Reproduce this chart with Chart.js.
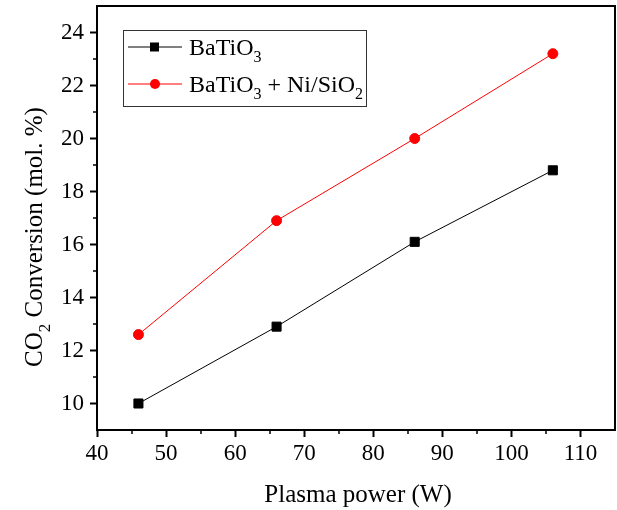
<!DOCTYPE html>
<html><head><meta charset="utf-8">
<script src="https://cdn.jsdelivr.net/npm/chart.js@4/dist/chart.umd.min.js"></script>
<style>html,body{margin:0;padding:0;background:#fff}</style>
</head><body>
<canvas id="c" width="617" height="510" style="width:617px;height:510px;display:block"></canvas>
<script>
const power = [46, 66, 86, 106];
const batio3 = [10.0, 12.9, 16.1, 18.8];
const batio3NiSiO2 = [12.6, 16.9, 20.0, 23.2];
const xTicks = [40, 50, 60, 70, 80, 90, 100, 110];
const yTicks = [10, 12, 14, 16, 18, 20, 22, 24];
const xMinor = [45, 55, 65, 75, 85, 95, 105];
const yMinor = [11, 13, 15, 17, 19, 21, 23];
const legendItems = [
  { parts: [['BaTiO', false], ['3', true]], color: '#000000', style: 'rect' },
  { parts: [['BaTiO', false], ['3', true], [' + Ni/SiO', false], ['2', true]], color: '#ff0000', style: 'circle' }
];
const xTitle = 'Plasma power (W)';
const yTitleParts = [['CO', false], ['2', true], [' Conversion (mol. %)', false]];

const FONT = '"Liberation Serif", "Times New Roman", serif';

function drawParts(ctx, parts, x, y, size) {
  let cx = x;
  for (const [t, sub] of parts) {
    const fs = sub ? Math.round(size * 0.68) : size;
    ctx.font = fs + 'px ' + FONT;
    ctx.fillText(t, cx, sub ? y + size * 0.3 : y);
    cx += ctx.measureText(t).width;
  }
  return cx - x;
}

const decor = {
  id: 'decor',
  afterDraw(chart) {
    const ctx = chart.ctx;
    const a = chart.chartArea;
    const xs = chart.scales.x, ys = chart.scales.y;
    ctx.save();
    ctx.strokeStyle = '#000';
    ctx.lineWidth = 2;
    ctx.beginPath();
    ctx.moveTo(a.left, a.top); ctx.lineTo(a.right, a.top); ctx.lineTo(a.right, a.bottom);
    ctx.stroke();
    ctx.lineWidth = 1.5;
    ctx.beginPath();
    for (const v of xMinor) {
      const px = Math.round(xs.getPixelForValue(v));
      ctx.moveTo(px, a.bottom); ctx.lineTo(px, a.bottom + 4);
    }
    for (const v of yMinor) {
      const py = Math.round(ys.getPixelForValue(v));
      ctx.moveTo(a.left, py); ctx.lineTo(a.left - 4, py);
    }
    ctx.stroke();
    ctx.fillStyle = '#000';
    ctx.textBaseline = 'alphabetic';
    ctx.textAlign = 'left';
    ctx.font = '25px ' + FONT;
    const tw = ctx.measureText(xTitle).width;
    ctx.fillText(xTitle, (a.left + a.right) / 2 - tw / 2 + 2, 502);
    ctx.save();
    ctx.translate(42, 237);
    ctx.rotate(-Math.PI / 2);
    let w = 0;
    for (const [t, sub] of yTitleParts) {
      ctx.font = (sub ? Math.round(25 * 0.68) : 25) + 'px ' + FONT;
      w += ctx.measureText(t).width;
    }
    drawParts(ctx, yTitleParts, -w / 2, 0, 25);
    ctx.restore();
    const lx = 123, ly = 30, lw = 243, lh = 76;
    ctx.strokeStyle = '#333';
    ctx.lineWidth = 1;
    ctx.strokeRect(lx + 0.5, ly + 0.5, lw, lh);
    legendItems.forEach((it, i) => {
      const cy = 47 + i * 37;
      ctx.strokeStyle = it.color;
      ctx.lineWidth = 1;
      ctx.beginPath(); ctx.moveTo(128, cy); ctx.lineTo(182, cy); ctx.stroke();
      ctx.fillStyle = it.color;
      if (it.style === 'rect') { ctx.fillRect(150, cy - 4.5, 9, 9); }
      else { ctx.beginPath(); ctx.arc(155, cy, 5, 0, Math.PI * 2); ctx.fill(); }
      ctx.fillStyle = '#000';
      drawParts(ctx, it.parts, 189, cy + 8, 24);
    });
    ctx.restore();
  }
};

new Chart(document.getElementById('c'), {
  type: 'line',
  data: {
    datasets: [
      { label: 'BaTiO3', data: power.map((x, i) => ({ x, y: batio3[i] })),
        borderColor: '#000', backgroundColor: '#000', borderWidth: 1,
        pointStyle: 'rect', pointRadius: 6.4, pointHoverRadius: 6.4, tension: 0 },
      { label: 'BaTiO3 + Ni/SiO2', data: power.map((x, i) => ({ x, y: batio3NiSiO2[i] })),
        borderColor: '#ff0000', backgroundColor: '#ff0000', borderWidth: 1,
        pointStyle: 'circle', pointRadius: 5, pointHoverRadius: 5, tension: 0 }
    ]
  },
  options: {
    responsive: false,
    animation: false,
    events: [],
    layout: { autoPadding: false, padding: { left: 0, top: 6, right: 2, bottom: 0 } },
    plugins: { legend: { display: false }, tooltip: { enabled: false } },
    scales: {
      x: {
        type: 'linear', min: 40, max: 115,
        afterBuildTicks: s => { s.ticks = xTicks.map(v => ({ value: v })); },
        afterFit: s => { s.height = 80; s.paddingLeft = 0; s.paddingRight = 0; },
        grid: { drawOnChartArea: false, drawTicks: true, tickLength: 7, tickColor: '#000', tickWidth: 2 },
        border: { display: true, color: '#000', width: 2 },
        ticks: { color: '#000', font: { family: FONT, size: 23 }, padding: 3, maxRotation: 0 }
      },
      y: {
        type: 'linear', min: 9, max: 25,
        afterBuildTicks: s => { s.ticks = yTicks.map(v => ({ value: v })); },
        afterFit: s => { s.width = 97; s.paddingTop = 0; s.paddingBottom = 0; },
        grid: { drawOnChartArea: false, drawTicks: true, tickLength: 7, tickColor: '#000', tickWidth: 2 },
        border: { display: true, color: '#000', width: 2 },
        ticks: { color: '#000', font: { family: FONT, size: 23 }, padding: 6 }
      }
    }
  },
  plugins: [decor]
});
</script>
</body></html>
